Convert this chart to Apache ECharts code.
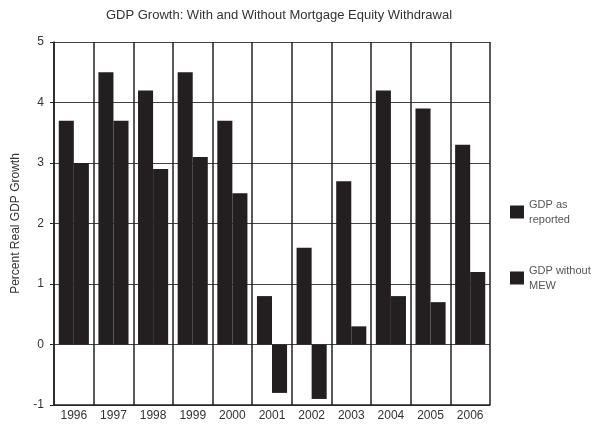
<!DOCTYPE html>
<html>
<head>
<meta charset="utf-8">
<script src="https://cdn.jsdelivr.net/npm/echarts@6/dist/echarts.min.js"></script>
<style>
  html, body { margin: 0; padding: 0; background: #fff; }
  #chart { width: 606px; height: 426px; }
</style>
</head>
<body>
<div id="chart"></div>
<script>
const years = ['1996', '1997', '1998', '1999', '2000', '2001', '2002', '2003', '2004', '2005', '2006']
const gdpReported = [3.7, 4.5, 4.2, 4.5, 3.7, 0.8, 1.6, 2.7, 4.2, 3.9, 3.3]
const gdpWithoutMew = [3.0, 3.7, 2.9, 3.1, 2.5, -0.8, -0.9, 0.3, 0.8, 0.7, 1.2]
const legendLabels = {
  'GDP as reported': 'GDP as\nreported',
  'GDP without MEW': 'GDP without\nMEW',
}

const font = 'Liberation Sans, Arial, sans-serif'
const chart = echarts.init(document.getElementById('chart'))

chart.setOption({
  animation: false,
  title: {
    text: 'GDP Growth: With and Without Mortgage Equity Withdrawal',
    left: 274,
    textAlign: 'center',
    top: 4,
    textStyle: { fontFamily: font, fontSize: 13, fontWeight: 'normal', color: '#333' },
  },
  legend: {
    orient: 'vertical',
    left: 505,
    top: 192,
    itemWidth: 14,
    itemHeight: 13,
    itemGap: 36,
    icon: 'rect',
    formatter: name => legendLabels[name],
    textStyle: { fontFamily: font, fontSize: 11, color: '#555', lineHeight: 15 },
  },
  grid: { left: 54, right: 116, top: 42, bottom: 21 },
  xAxis: {
    type: 'category',
    data: years,
    axisLine: { onZero: false, lineStyle: { color: '#222', width: 1.5 } },
    axisTick: { show: false },
    axisLabel: { fontFamily: font, fontSize: 12, color: '#333', margin: 5 },
    splitLine: { show: true, interval: 0, lineStyle: { color: '#222', width: 1.5 } },
  },
  yAxis: {
    type: 'value',
    min: -1,
    max: 5,
    interval: 1,
    name: 'Percent Real GDP Growth',
    nameLocation: 'middle',
    nameGap: 32,
    nameTextStyle: { fontFamily: font, fontSize: 12, color: '#333' },
    axisLine: { show: true, lineStyle: { color: '#222', width: 1.5 } },
    axisTick: { show: true, length: 4, lineStyle: { color: '#222' } },
    axisLabel: { fontFamily: font, fontSize: 12, color: '#333', margin: 10 },
    splitLine: { lineStyle: { color: '#444', width: 1 } },
  },
  series: [
    {
      name: 'GDP as reported',
      type: 'bar',
      data: gdpReported,
      barGap: '0%',
      barCategoryGap: '24%',
      itemStyle: { color: '#231f20' },
    },
    {
      name: 'GDP without MEW',
      type: 'bar',
      data: gdpWithoutMew,
      itemStyle: { color: '#231f20' },
    },
  ],
})
</script>
</body>
</html>
